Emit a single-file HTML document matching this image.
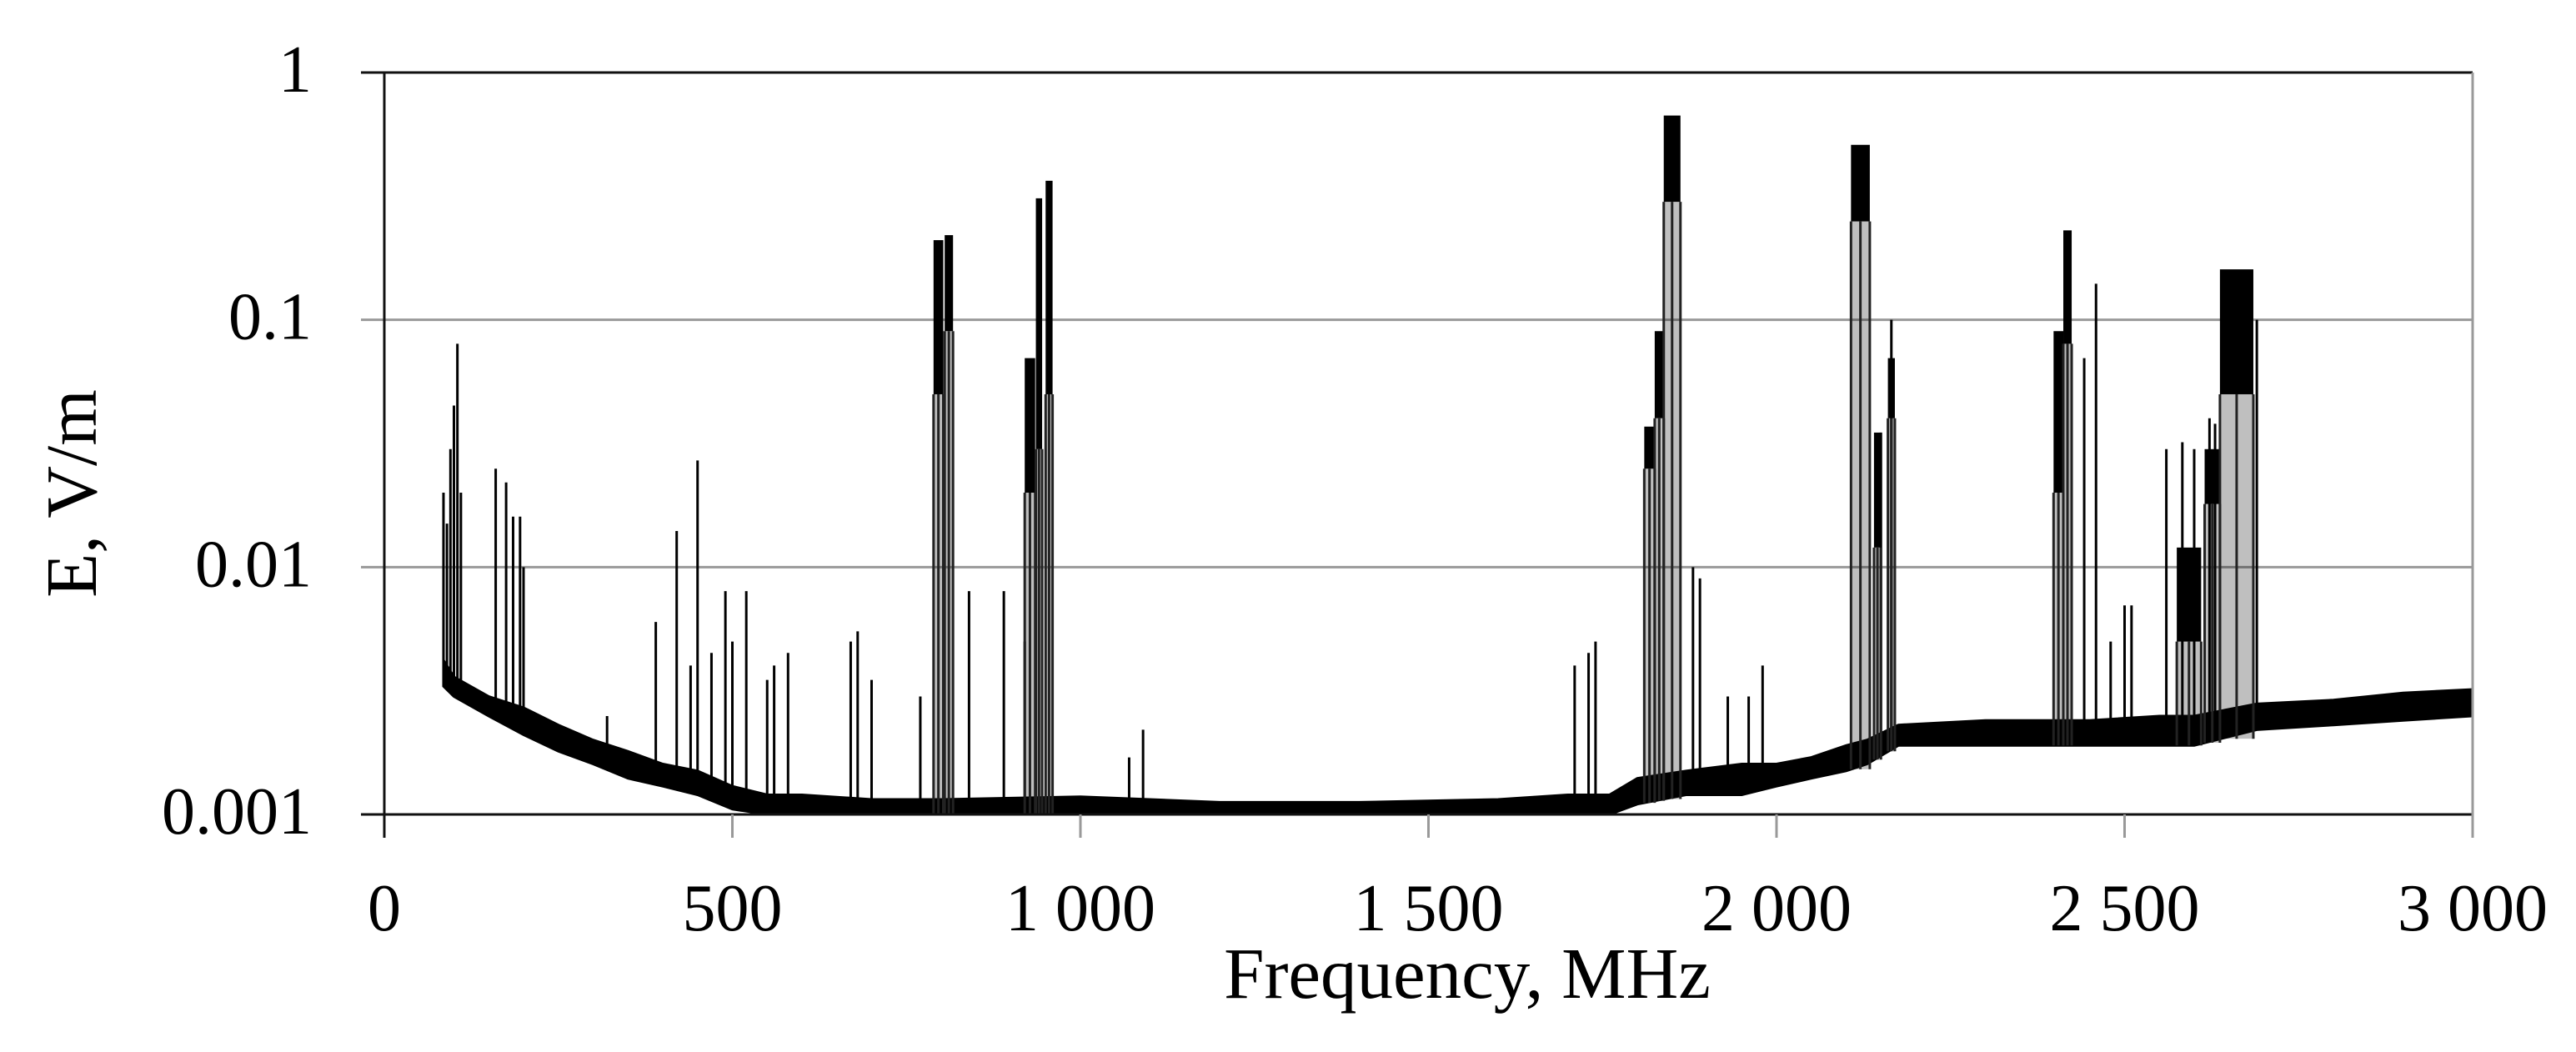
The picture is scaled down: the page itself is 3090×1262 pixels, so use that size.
<!DOCTYPE html>
<html><head><meta charset="utf-8">
<style>
html,body{margin:0;padding:0;background:#fff;}
svg{display:block;}
text{font-family:"Liberation Serif",serif;font-size:80px;fill:#000;}
.title{font-size:87px;}
</style></head>
<body>
<svg id="chart" width="3090" height="1262" viewBox="0 0 3090 1262" xmlns="http://www.w3.org/2000/svg">
<g id="grid"></g>
<g id="series"></g>
<g id="axes"></g>
<text class="title" x="1760" y="1197" text-anchor="middle">Frequency, MHz</text>
<text class="title" transform="translate(115,592) rotate(-90)" text-anchor="middle">E, V/m</text>
</svg>
<script>
// ---- data ----
const xTicks = [0, 500, 1000, 1500, 2000, 2500, 3000];
const xTickLabels = ["0", "500", "1 000", "1 500", "2 000", "2 500", "3 000"];
const yTicks = [1, 0.1, 0.01, 0.001];
const yTickLabels = ["1", "0.1", "0.01", "0.001"];

// noise floor envelope
const floorFreq = [85, 100, 150, 200, 250, 300, 350, 400, 450, 500, 550, 600, 700, 800, 1000, 1200, 1400, 1600, 1700, 1760, 1800, 1870, 1950, 2000, 2050, 2100, 2130, 2175, 2300, 2400, 2450, 2550, 2600, 2690, 2800, 2900, 3000];
const floorLow  = [0.0033, 0.003, 0.0025, 0.0021, 0.0018, 0.0016, 0.0014, 0.0013, 0.0012, 0.00105, 0.001, 0.001, 0.001, 0.001, 0.001, 0.001, 0.001, 0.001, 0.001, 0.001, 0.0011, 0.0012, 0.0012, 0.0013, 0.0014, 0.0015, 0.0016, 0.0019, 0.0019, 0.0019, 0.0019, 0.0019, 0.0019, 0.0022, 0.0023, 0.0024, 0.0025];
const floorHigh = [0.0042, 0.0036, 0.003, 0.0027, 0.0023, 0.002, 0.0018, 0.0016, 0.0015, 0.0013, 0.0012, 0.0012, 0.00115, 0.00115, 0.00118, 0.00112, 0.00112, 0.00115, 0.0012, 0.0012, 0.0014, 0.0015, 0.0016, 0.0016, 0.0017, 0.0019, 0.002, 0.0023, 0.0024, 0.0024, 0.0024, 0.0025, 0.0025, 0.0028, 0.0029, 0.0031, 0.0032];

// narrow spikes
const spikeFreq = [85, 90, 95, 100, 105, 110, 160, 175, 185, 195, 200, 320, 390, 420, 440, 450, 470, 490, 500, 520, 550, 560, 580, 670, 680, 700, 770, 840, 890, 920, 1070, 1090, 1710, 1730, 1740, 1880, 1890, 1930, 1960, 1980, 2150, 2165, 2442, 2459, 2480, 2500, 2510, 2560, 2583, 2600, 2622, 2630, 2690];
const spikeVal  = [0.02, 0.015, 0.03, 0.045, 0.08, 0.02, 0.025, 0.022, 0.016, 0.016, 0.01, 0.0025, 0.006, 0.014, 0.004, 0.027, 0.0045, 0.008, 0.005, 0.008, 0.0035, 0.004, 0.0045, 0.005, 0.0055, 0.0035, 0.003, 0.008, 0.008, 0.005, 0.0017, 0.0022, 0.004, 0.0045, 0.005, 0.01, 0.009, 0.003, 0.003, 0.004, 0.035, 0.1, 0.07, 0.14, 0.005, 0.007, 0.007, 0.03, 0.032, 0.03, 0.04, 0.038, 0.1];

// occupied bands
const bandStart = [789, 805, 920, 936, 950, 1810, 1825, 1838, 2107, 2140, 2160, 2398, 2412, 2575, 2615, 2637];
const bandEnd   = [803, 817, 935, 945, 960, 1825, 1838, 1862, 2134, 2150, 2170, 2412, 2424, 2610, 2637, 2685];
const bandLow   = [0.05, 0.09, 0.02, 0.03, 0.05, 0.025, 0.04, 0.3, 0.25, 0.012, 0.04, 0.02, 0.08, 0.005, 0.018, 0.05];
const bandHigh  = [0.21, 0.22, 0.07, 0.31, 0.365, 0.037, 0.09, 0.67, 0.51, 0.035, 0.07, 0.09, 0.23, 0.012, 0.03, 0.16];

// ---- axes ----
const X0 = 461, X1 = 2966, Y0 = 87, DEC = 296.67;
const xs = f => X0 + (f / 3000) * (X1 - X0);
const ys = v => Y0 + DEC * (-Math.log10(v));
const NS = "http://www.w3.org/2000/svg";
function mk(tag, parent, attrs) {
  const e = document.createElementNS(NS, tag);
  for (const k in attrs) e.setAttribute(k, attrs[k]);
  parent.appendChild(e);
  return e;
}
const grid = document.getElementById('grid');
const axes = document.getElementById('axes');
const series = document.getElementById('series');

yTicks.forEach((v, i) => {
  const y = ys(v);
  const isEdge = (i === 0 || i === yTicks.length - 1);
  const ln = mk('line', isEdge ? axes : grid, {x1: 433, x2: X1, y1: y, y2: y, stroke: isEdge ? '#111' : '#999', 'stroke-width': 3});
  
  
  const t = mk('text', axes, {x: 374, y: y + 23, 'text-anchor': 'end'});
  t.textContent = yTickLabels[i];
  
  
});
xTicks.forEach((f, i) => {
  const x = xs(f);
  const tk = mk('line', axes, {x1: x, x2: x, y1: ys(0.001), y2: 1005, stroke: i === 0 ? '#111' : '#999', 'stroke-width': 3});
  
  
  const t = mk('text', axes, {x: x, y: 1116, 'text-anchor': 'middle'});
  t.textContent = xTickLabels[i];
  
  
});
const la = mk('line', axes, {x1: X0, x2: X0, y1: Y0, y2: 1005, stroke: '#111', 'stroke-width': 3});


const ra = mk('line', axes, {x1: X1, x2: X1, y1: Y0, y2: 1005, stroke: '#999', 'stroke-width': 3});



// ---- series ----
let pts = [];
floorFreq.forEach((f, i) => pts.push(xs(f).toFixed(1) + ',' + ys(floorHigh[i]).toFixed(1)));
for (let i = floorFreq.length - 1; i >= 0; i--) pts.push(xs(floorFreq[i]).toFixed(1) + ',' + ys(floorLow[i]).toFixed(1));
const fl = mk('polygon', series, {points: pts.join(' '), fill: '#000', stroke: '#000', 'stroke-width': 3});



function floorAt(f) {
  for (let i = 0; i < floorFreq.length - 1; i++) {
    if (f >= floorFreq[i] && f <= floorFreq[i + 1]) {
      const t = (f - floorFreq[i]) / (floorFreq[i + 1] - floorFreq[i]);
      return floorLow[i] + t * (floorLow[i + 1] - floorLow[i]);
    }
  }
  return floorLow[floorLow.length - 1];
}

spikeFreq.forEach((f, i) => {
  const x = xs(f);
  const s = mk('line', series, {x1: x, x2: x, y1: ys(floorAt(f)), y2: ys(spikeVal[i]), stroke: '#000', 'stroke-width': 3});
  
  
});

bandStart.forEach((f, i) => {
  const xa = xs(f), xb = xs(bandEnd[i]);
  const r = mk('rect', series, {x: xa, y: ys(bandHigh[i]), width: Math.max(3, xb - xa), height: ys(bandLow[i]) - ys(bandHigh[i]), fill: '#000'});
  
  
  const col = mk('rect', series, {x: xa, y: ys(bandLow[i]), width: Math.max(3, xb - xa), height: ys(floorAt(f)) - ys(bandLow[i]), fill: '#000', 'fill-opacity': 0.25});
  
  
  [xa, (xa + xb) / 2, xb].forEach(x => {
    const e = mk('line', series, {x1: x, x2: x, y1: ys(floorAt(f)), y2: ys(bandLow[i]), stroke: '#222', 'stroke-width': 3});
    
    
  });
});
</script>
</body></html>
